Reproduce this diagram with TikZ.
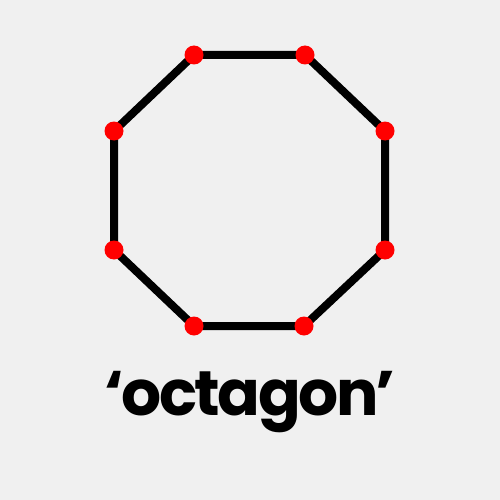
\documentclass[tikz,border=0pt]{standalone}
\usepackage{fontspec}
\setmainfont{Poppins}
\newfontfamily\labelfont[LetterSpace=-4]{Poppins}
\definecolor{bg}{RGB}{240,240,240}
\definecolor{dotred}{RGB}{255,0,0}
\begin{document}
\begin{tikzpicture}[x=1pt,y=-1pt,
  edge/.style={line width=8pt,line cap=round,line join=round},
  vtx/.style={circle,fill=dotred,inner sep=0pt,minimum size=19pt}]
\fill[bg] (0,0) rectangle (500,500);
\useasboundingbox (0,0) rectangle (500,500);
\coordinate (a) at (194,55);
\coordinate (b) at (305,55);
\coordinate (c) at (385,131);
\coordinate (d) at (385,250);
\coordinate (e) at (304,326);
\coordinate (f) at (194,326);
\coordinate (g) at (114,250);
\coordinate (h) at (114,131);
\draw[edge] (a) -- (b) -- (c) -- (d) -- (e) -- (f) -- (g) -- (h) -- cycle;
\foreach \v in {a,b,c,d,e,f,g,h}
  \node[vtx] (\v dot) at (\v) {};
\node[anchor=base,inner sep=0pt,font=\labelfont\fontsize{63}{70}\selectfont\bfseries] (t) at (250,415) {‘octagon’};
\end{tikzpicture}
\end{document}
